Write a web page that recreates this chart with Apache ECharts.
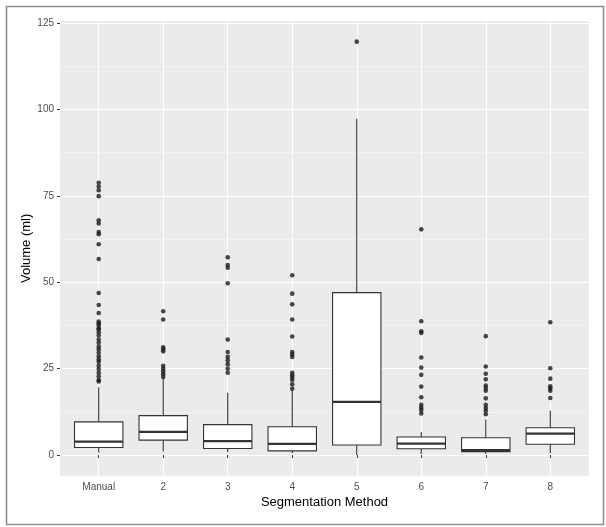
<!DOCTYPE html>
<html><head><meta charset="utf-8">
<script src="https://cdn.jsdelivr.net/npm/echarts@6/dist/echarts.min.js"></script>
<style>html,body{margin:0;padding:0;background:#fff}#c{width:606px;height:527px}</style>
</head><body><div id="c"></div><script>
const categories = ['Manual', '2', '3', '4', '5', '6', '7', '8'];
const lowerWhisker = [0.7, 1.0, 0.8, 0.5, 0.0, 0.3, 0.3, 0.5];
const q1 = [2.2, 4.3, 1.9, 1.2, 2.9, 1.8, 1.0, 3.1];
const median = [3.9, 6.7, 4.0, 3.2, 15.4, 3.3, 1.4, 6.2];
const q3 = [9.6, 11.4, 8.8, 8.2, 47.0, 5.2, 5.0, 7.9];
const upperWhisker = [19.6, 22.2, 18.0, 18.8, 97.3, 6.6, 10.3, 12.8];
const outliersManual = [78.8, 77.7, 76.6, 74.9, 67.9, 67.0, 64.5, 63.9, 61.0, 56.7, 46.9, 43.4, 41.1, 38.6, 38.1, 37.5, 36.7, 36.3, 35.5, 34.6, 33.4, 32.5, 31.4, 30.6, 29.6, 28.6, 27.7, 27.0, 25.9, 24.9, 23.8, 22.8, 21.7, 21.3];
const outliers2 = [41.6, 39.2, 31.2, 30.6, 30.0, 25.8, 25.0, 24.2, 23.4, 22.6];
const outliers3 = [57.2, 55.0, 54.2, 49.7, 33.4, 29.8, 28.4, 27.4, 26.3, 25.0, 23.8];
const outliers4 = [52.0, 46.7, 43.6, 39.2, 34.3, 29.8, 29.1, 28.4, 23.8, 23.1, 22.4, 21.7, 20.5, 19.2];
const outliers5 = [119.6];
const outliers6 = [65.3, 38.7, 35.8, 35.3, 28.2, 25.3, 23.2, 19.8, 16.7, 14.5, 13.7, 13.0, 12.0];
const outliers7 = [34.4, 25.6, 23.5, 21.9, 20.1, 19.4, 18.6, 16.4, 14.5, 13.6, 12.8, 11.8];
const outliers8 = [38.4, 25.1, 22.1, 19.9, 19.3, 18.6, 16.5];
const yTicks = [0, 25, 50, 75, 100, 125];
const xTicks = [1, 2, 3, 4, 5, 6, 7, 8];

const allOutliers = [outliersManual, outliers2, outliers3, outliers4, outliers5, outliers6, outliers7, outliers8];
const boxData = categories.map((c, i) => [i + 1, lowerWhisker[i], q1[i], median[i], q3[i], upperWhisker[i]]);
const outlierData = [];
allOutliers.forEach((arr, i) => arr.forEach(v => outlierData.push([i + 1, v])));

const FONT = '"Liberation Sans", Arial, Helvetica, sans-serif';
const DARK = '#333333';

function renderBox(params, api) {
  const x = api.value(0);
  const lo = api.coord([x, api.value(1)]);
  const b = api.coord([x, api.value(2)]);
  const m = api.coord([x, api.value(3)]);
  const t = api.coord([x, api.value(4)]);
  const hi = api.coord([x, api.value(5)]);
  const hw = api.size([0.75, 0])[0] / 2;
  const st = { stroke: DARK, lineWidth: 1.1, fill: null };
  return {
    type: 'group',
    children: [
      { type: 'line', shape: { x1: lo[0], y1: lo[1], x2: b[0], y2: b[1] }, style: st },
      { type: 'line', shape: { x1: t[0], y1: t[1], x2: hi[0], y2: hi[1] }, style: st },
      { type: 'rect', shape: { x: t[0] - hw, y: t[1], width: 2 * hw, height: b[1] - t[1] }, style: { fill: '#ffffff', stroke: DARK, lineWidth: 1.1 } },
      { type: 'line', shape: { x1: m[0] - hw, y1: m[1], x2: m[0] + hw, y2: m[1] }, style: { stroke: DARK, lineWidth: 2.2 } }
    ]
  };
}

const chart = echarts.init(document.getElementById('c'), null, { renderer: 'canvas' });
chart.setOption({
  animation: false,
  backgroundColor: '#ffffff',
  textStyle: { fontFamily: FONT },
  graphic: [{
    type: 'rect', left: 4, top: 4, z: 100,
    shape: { width: 597, height: 518 },
    style: { fill: null, stroke: '#8f8f8f', lineWidth: 1.6 }
  }],
  grid: {
    left: 60, right: 17, top: 21, bottom: 51.3,
    show: true, backgroundColor: '#EBEBEB', borderWidth: 0
  },
  xAxis: {
    type: 'value', min: 0.4, max: 8.6,
    name: 'Segmentation Method', nameLocation: 'middle', nameGap: 20, nameMoveOverlap: false,
    nameTextStyle: { fontSize: 13, color: '#000', fontFamily: FONT },
    axisLine: { show: false },
    axisTick: { show: true, length: 3, customValues: xTicks, lineStyle: { color: DARK, width: 1 } },
    axisLabel: { customValues: xTicks, margin: 7, fontSize: 10, color: '#4D4D4D', fontFamily: FONT,
      formatter: v => categories[Math.round(v) - 1] || '' },
    splitLine: { show: true, lineStyle: { color: '#ffffff', width: 1.1 } },
    minorSplitLine: { show: false }
  },
  yAxis: {
    type: 'value', min: -5.98, max: 125.58, minInterval: 25, maxInterval: 25,
    name: 'Volume (ml)', nameLocation: 'middle', nameGap: 27, nameRotate: 90, nameMoveOverlap: false,
    nameTextStyle: { fontSize: 13, color: '#000', fontFamily: FONT },
    axisLine: { show: false },
    axisTick: { show: true, length: 3, customValues: yTicks, lineStyle: { color: DARK, width: 1 } },
    axisLabel: { customValues: yTicks, margin: 6, fontSize: 10, color: '#4D4D4D', fontFamily: FONT },
    splitLine: { show: true, lineStyle: { color: '#ffffff', width: 1.1 } },
    minorTick: { show: false, splitNumber: 2 },
    minorSplitLine: { show: true, lineStyle: { color: '#F7F7F7', width: 0.6 } }
  },
  series: [
    {
      type: 'custom', name: 'box', renderItem: renderBox,
      encode: { x: 0, y: [1, 2, 3, 4, 5] },
      data: boxData, z: 2, clip: false
    },
    {
      type: 'scatter', name: 'outliers', data: outlierData,
      symbol: 'circle', symbolSize: 4.6,
      itemStyle: { color: '#1a1a1a' }, z: 3
    }
  ]
});
</script></body></html>
